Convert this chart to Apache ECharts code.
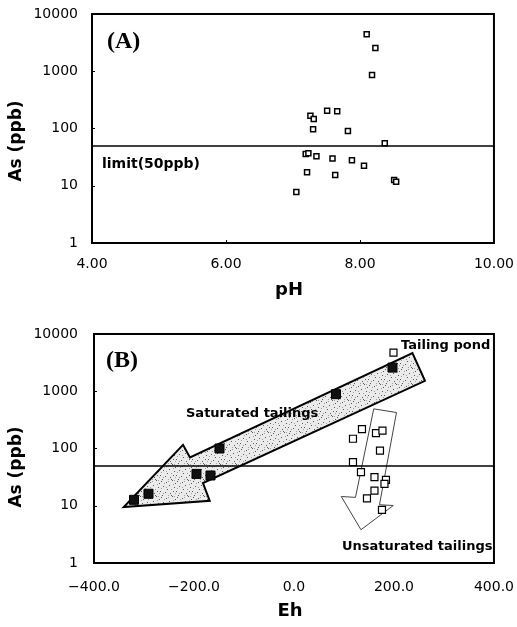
<!DOCTYPE html>
<html>
<head>
<meta charset="utf-8">
<script src="https://cdn.jsdelivr.net/npm/echarts@6/dist/echarts.min.js"></script>
<style>
  html, body { margin: 0; padding: 0; background: #fff; }
  #chart { width: 517px; height: 627px; }
</style>
</head>
<body>
<div id="chart"></div>
<script>
// ---- Panel (A): As concentration against pH ----
const phValues = [8.10, 8.23, 8.18, 7.51, 7.66, 7.26, 7.31, 7.30, 7.82, 8.37, 7.19, 7.23, 7.35, 7.59, 7.88, 8.06, 7.21, 7.63, 8.51, 8.54, 7.05];
const asByPh   = [4420, 2550, 860, 205, 200, 167, 147, 97, 90, 55, 36, 37, 32.7, 30, 27.8, 22.4, 17.2, 15.4, 12.6, 11.8, 7.8];

// ---- Panel (B): As concentration against Eh ----
const ehSaturated   = [-320, -291, -195, -167, -149, 84, 197];
const asSaturated   = [12.7, 16.2, 36, 33.8, 100, 890, 2590];
const ehUnsaturated = [118, 136, 164, 177, 172, 118, 134, 161, 184, 181, 161, 146, 176];
const asUnsaturated = [148, 218, 186, 206, 92, 58, 38.7, 31.7, 28.4, 24.2, 18.3, 13.4, 8.5];
const ehPond = [199];
const asPond = [4730];

// Drinking-water limit for arsenic (ppb)
const asLimit = 50;

// Axis ticks
const phTicks = [4, 6, 8, 10];
const ehTicks = [-400, -200, 0, 200, 400];
const asTicks = [1, 10, 100, 1000, 10000];

// Trend arrows, vertices given as [Eh, As]
const saturatedArrow = [[237, 4620], [262, 1520], [-182, 24.9], [-168.5, 12.2], [-340.5, 9.5], [-222, 116], [-208, 69.7]];
const unsaturatedArrow = [[159.5, 493], [205, 425], [171, 10.4], [198.6, 10.1], [134, 3.81], [94.6, 14.5], [123, 14.0]];

const zip = (xs, ys) => xs.map((x, i) => [x, ys[i]]);

// Speckled fill for the saturated-tailings arrow
function stipple() {
  const c = document.createElement('canvas');
  c.width = 16; c.height = 16;
  const g = c.getContext('2d');
  g.fillStyle = '#ebebeb';
  g.fillRect(0, 0, 16, 16);
  g.fillStyle = '#5a5a5a';
  const dots = [[1,1],[6,2],[12,0],[3,6],[9,5],[14,7],[0,11],[5,12],[10,13],[13,11],[7,9],[2,15],[15,3],[11,15]];
  dots.forEach(d => g.fillRect(d[0], d[1], 1, 1));
  g.fillStyle = '#a0a0a0';
  const light = [[4,3],[8,1],[13,4],[1,8],[6,7],[11,9],[15,13],[3,13],[8,15],[14,0]];
  light.forEach(d => g.fillRect(d[0], d[1], 1, 1));
  return c;
}
const stippleImg = stipple();

const FONT = '"DejaVu Sans", sans-serif';

const chart = echarts.init(document.getElementById('chart'), null, { renderer: 'canvas' });

function logAxis(gridIndex, margin) {
  return {
    type: 'log', logBase: 10, min: asTicks[0], max: asTicks[asTicks.length - 1], gridIndex,
    axisLine: { show: true, onZero: false, lineStyle: { color: '#000', width: 2 } },
    axisTick: { show: true, inside: true, length: 3, lineStyle: { color: '#000' } },
    minorTick: { show: false },
    splitLine: { show: false },
    axisLabel: { color: '#000', fontFamily: FONT, fontSize: 14, margin,
                 formatter: v => String(Math.round(v)) }
  };
}

function arrowRenderer(vertices, style) {
  return function (params, api) {
    if (params.dataIndex !== 0) return;
    return {
      type: 'polygon',
      shape: { points: vertices.map(p => api.coord(p)) },
      style: style,
      silent: true
    };
  };
}

chart.setOption({
  animation: false,
  backgroundColor: '#fff',
  grid: [
    { left: 92, top: 14, width: 406, height: 229, show: true, borderColor: '#000', borderWidth: 2, backgroundColor: 'transparent' },
    { left: 94, top: 334, width: 404, height: 229, show: true, borderColor: '#000', borderWidth: 2, backgroundColor: 'transparent' }
  ],
  xAxis: [
    {
      type: 'value', gridIndex: 0, min: phTicks[0], max: phTicks[phTicks.length - 1], interval: 2,
      axisLine: { show: true, onZero: false, lineStyle: { color: '#000', width: 2 } },
      axisTick: { show: true, inside: true, length: 3, lineStyle: { color: '#000' } },
      splitLine: { show: false },
      axisLabel: { color: '#000', fontFamily: FONT, fontSize: 14, margin: 14,
                   formatter: v => v.toFixed(2) }
    },
    {
      type: 'value', gridIndex: 1, min: ehTicks[0], max: ehTicks[ehTicks.length - 1], interval: 200,
      axisLine: { show: true, onZero: false, lineStyle: { color: '#000', width: 2 } },
      axisTick: { show: false },
      splitLine: { show: false },
      axisLabel: { color: '#000', fontFamily: FONT, fontSize: 14, margin: 17,
                   formatter: v => (v < 0 ? '\u2212' + Math.abs(v).toFixed(1) : v.toFixed(1)) }
    }
  ],
  yAxis: [logAxis(0, 14), logAxis(1, 16)],
  series: [
    {
      type: 'scatter', xAxisIndex: 0, yAxisIndex: 0, z: 3,
      data: zip(phValues, asByPh),
      symbol: 'rect', symbolSize: 5,
      itemStyle: { color: '#fff', borderColor: '#000', borderWidth: 1.5, opacity: 1 },
      markLine: {
        silent: true, symbol: ['none', 'none'], animation: false,
        label: { show: false },
        lineStyle: { color: '#000', width: 1.5, type: 'solid' },
        data: [{ yAxis: asLimit }]
      }
    },
    {
      type: 'custom', xAxisIndex: 1, yAxisIndex: 1, z: 1,
      data: [saturatedArrow[0]],
      renderItem: arrowRenderer(saturatedArrow, {
        fill: { image: stippleImg, repeat: 'repeat' },
        stroke: '#000', lineWidth: 2
      })
    },
    {
      type: 'custom', xAxisIndex: 1, yAxisIndex: 1, z: 1,
      data: [unsaturatedArrow[0]],
      renderItem: arrowRenderer(unsaturatedArrow, {
        fill: 'none', stroke: '#444', lineWidth: 1
      })
    },
    {
      type: 'scatter', xAxisIndex: 1, yAxisIndex: 1, z: 4,
      data: zip(ehSaturated, asSaturated),
      symbol: 'rect', symbolSize: 9,
      itemStyle: { color: '#111', borderColor: '#000', borderWidth: 1, opacity: 1 },
      markLine: {
        silent: true, symbol: ['none', 'none'], animation: false,
        label: { show: false },
        lineStyle: { color: '#000', width: 1.5, type: 'solid' },
        data: [{ yAxis: asLimit }]
      }
    },
    {
      type: 'scatter', xAxisIndex: 1, yAxisIndex: 1, z: 4,
      data: zip(ehUnsaturated, asUnsaturated),
      symbol: 'rect', symbolSize: 7,
      itemStyle: { color: '#fff', borderColor: '#000', borderWidth: 1.2, opacity: 1 }
    },
    {
      type: 'scatter', xAxisIndex: 1, yAxisIndex: 1, z: 4,
      data: zip(ehPond, asPond),
      symbol: 'rect', symbolSize: 7,
      itemStyle: { color: '#fff', borderColor: '#000', borderWidth: 1.2, opacity: 1 }
    }
  ],
  graphic: [
    { type: 'text', left: 107, top: 30, z: 10,
      style: { text: '(A)', font: 'bold 24px "Liberation Serif", serif', fill: '#000' } },
    { type: 'text', left: 106, top: 349, z: 10,
      style: { text: '(B)', font: 'bold 24px "Liberation Serif", serif', fill: '#000' } },
    { type: 'text', x: 102, y: 164, z: 10,
      style: { text: 'limit(50ppb)', font: 'bold 14px ' + FONT, fill: '#000', textVerticalAlign: 'middle' } },
    { type: 'text', x: 401, y: 346, z: 10,
      style: { text: 'Tailing pond', font: 'bold 13px ' + FONT, fill: '#000', textVerticalAlign: 'middle' } },
    { type: 'text', x: 186, y: 414, z: 10,
      style: { text: 'Saturated tailings', font: 'bold 13px ' + FONT, fill: '#000', textVerticalAlign: 'middle' } },
    { type: 'text', x: 342, y: 547, z: 10,
      style: { text: 'Unsaturated tailings', font: 'bold 13px ' + FONT, fill: '#000', textVerticalAlign: 'middle' } },
    { type: 'text', x: 17, y: 141, rotation: Math.PI / 2, z: 10,
      style: { text: 'As (ppb)', font: 'bold 17px ' + FONT, fill: '#000', textAlign: 'center', textVerticalAlign: 'middle' } },
    { type: 'text', x: 17, y: 467, rotation: Math.PI / 2, z: 10,
      style: { text: 'As (ppb)', font: 'bold 17px ' + FONT, fill: '#000', textAlign: 'center', textVerticalAlign: 'middle' } },
    { type: 'text', x: 289, y: 290, z: 10,
      style: { text: 'pH', font: 'bold 18px ' + FONT, fill: '#000', textAlign: 'center', textVerticalAlign: 'middle' } },
    { type: 'text', x: 290, y: 611, z: 10,
      style: { text: 'Eh', font: 'bold 18px ' + FONT, fill: '#000', textAlign: 'center', textVerticalAlign: 'middle' } }
  ]
});
</script>
</body>
</html>
